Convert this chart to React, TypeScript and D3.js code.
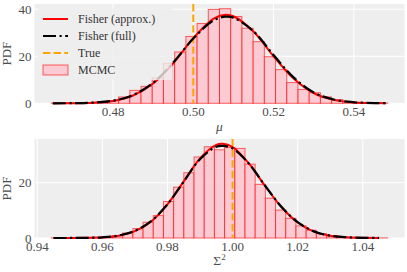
import * as d3 from "d3";

// histogram bin heights (density)
const muBins = [0.05, 0.05, 0.1, 0.2, 0.5, 1.1, 2.7, 5.5, 7.2, 10.8, 17.0, 21.8, 28.4, 33.9, 39.9, 40.2, 36.9, 31.9, 26.2, 19.8, 14.3, 8.8, 5.9, 4.5, 2.7, 1.6, 0.8, 0.4, 0.2, 0.1];
const muRange = [0.46463, 0.54844];
const sigBins = [0.05, 0.05, 0.05, 0.1, 0.15, 0.3, 0.8, 1.8, 3.4, 5.7, 8.1, 13.2, 18.4, 23.6, 29.3, 33.0, 31.9, 32.7, 32.4, 26.7, 19.4, 14.4, 10.1, 7.1, 4.4, 2.8, 1.6, 0.8, 0.4, 0.2, 0.1, 0.05, 0.05];
const sigRange = [0.94432, 1.04765];

// fisher curves
const muGrid = [0.465, 0.47, 0.475, 0.48, 0.485, 0.49, 0.495, 0.5, 0.505, 0.508, 0.51, 0.515, 0.52, 0.525, 0.53, 0.535, 0.54, 0.545, 0.548];
const muApprox = [0.01, 0.05, 0.25, 1.0, 3.3, 8.4, 17.0, 27.7, 35.9, 37.6, 37.0, 30.5, 20.0, 10.5, 4.3, 1.45, 0.38, 0.08, 0.03];
const muFull = [0.01, 0.06, 0.3, 1.1, 3.5, 8.7, 17.3, 27.5, 35.2, 36.8, 36.4, 30.6, 20.5, 11.0, 4.6, 1.6, 0.45, 0.1, 0.04];
const sigGrid = [0.945, 0.95, 0.955, 0.96, 0.965, 0.97, 0.975, 0.98, 0.985, 0.99, 0.995, 0.997, 1.0, 1.005, 1.01, 1.015, 1.02, 1.025, 1.03, 1.035, 1.04, 1.045];
const sigApprox = [0, 0.01, 0.06, 0.24, 0.85, 2.5, 6.0, 12.2, 20.5, 28.8, 33.7, 34.1, 32.9, 27.0, 18.8, 11.2, 5.6, 2.3, 0.8, 0.25, 0.07, 0.02];
const sigFull = [0, 0.01, 0.06, 0.25, 0.88, 2.6, 6.1, 12.2, 20.4, 28.5, 33.0, 33.3, 32.4, 26.9, 18.9, 11.3, 5.7, 2.4, 0.85, 0.27, 0.08, 0.02];

const muXTicks = [0.48, 0.5, 0.52, 0.54];
const muYTicks = [0, 20, 40];
const sigXTicks = [0.94, 0.96, 0.98, 1.0, 1.02, 1.04];
const sigYTicks = [0, 20];
const muTrue = 0.5;
const sigTrue = 1.0;

const legendItems = ["Fisher (approx.)", "Fisher (full)", "True", "MCMC"];

const FONT = "'Liberation Serif', 'Times New Roman', serif";
const BG = "#eeeeee";
const PINK = "#ffc0cb";
const TXT = "#4d4d4d";

const Panel = ({bins, range, grid, approx, full, xTicks, yTicks, truth, top, bottom, yMax, label, legend}) => {
    const left = 34.5, right = 404.5
    const pad = (range[1] - range[0]) * 0.05
    const x = d3.scaleLinear([range[0] - pad, range[1] + pad], [left, right])
    const y = d3.scaleLinear([0, yMax], [bottom, top])
    const bw = (range[1] - range[0]) / bins.length
    const line = d3.line().x(d => x(d[0])).y(d => y(d[1])).curve(d3.curveCatmullRom)
    const approxPts = grid.map((g, i) => [g, approx[i]])
    const fullPts = grid.map((g, i) => [g, full[i]])

    return <g>
        <rect x={left} y={top} width={right - left} height={bottom - top} fill={BG} />
        {xTicks.map(t => <line key={"gx" + t} x1={x(t)} x2={x(t)} y1={top} y2={bottom} stroke="#fff" strokeWidth={1} />)}
        {yTicks.map(t => <line key={"gy" + t} x1={left} x2={right} y1={y(t)} y2={y(t)} stroke="#fff" strokeWidth={1} />)}
        {bins.map((b, i) => {
            const x0 = x(range[0] + i * bw), x1 = x(range[0] + (i + 1) * bw)
            return <rect key={"b" + i} x={x0} y={y(b)} width={x1 - x0} height={y(0) - y(b)}
                fill={PINK} fillOpacity={0.8} stroke="red" strokeOpacity={0.6} strokeWidth={1} />
        })}
        <line x1={x(truth)} x2={x(truth)} y1={top} y2={bottom} stroke="orange" strokeWidth={2} strokeDasharray="7.4,3.2" />
        <path d={line(approxPts)} fill="none" stroke="red" strokeWidth={2} />
        <path d={line(fullPts)} fill="none" stroke="black" strokeWidth={2.2} strokeDasharray="13,3.5,2.2,3.5" />
        {xTicks.map(t => <text key={"tx" + t} x={x(t)} y={bottom + 13} textAnchor="middle" fontSize={13} fontFamily={FONT} fill={TXT}>{t.toFixed(2)}</text>)}
        {yTicks.map(t => <text key={"ty" + t} x={31.5} y={y(t) + 4.5} textAnchor="end" fontSize={13} fontFamily={FONT} fill={TXT}>{t}</text>)}
        <text transform={`translate(11, ${(top + bottom) / 2}) rotate(-90)`} textAnchor="middle" fontSize={13} fontFamily={FONT} fill={TXT}>PDF</text>
        {label}
        {legend && <g>
            <rect x={38} y={8} width={134} height={72} fill={BG} fillOpacity={0.8} />
            {legendItems.map((name, i) => {
                const cy = 19 + i * 17
                let handle
                if (i === 0) handle = <line x1={43} x2={68} y1={cy} y2={cy} stroke="red" strokeWidth={2} />
                else if (i === 1) handle = <line x1={43} x2={68} y1={cy} y2={cy} stroke="black" strokeWidth={2.2} strokeDasharray="13,3.5,2.2,3.5" />
                else if (i === 2) handle = <line x1={43} x2={68} y1={cy} y2={cy} stroke="orange" strokeWidth={2} strokeDasharray="7.4,3.2" />
                else handle = <rect x={43} y={cy - 5} width={25} height={10} fill={PINK} fillOpacity={0.8} stroke="red" strokeOpacity={0.6} strokeWidth={1} />
                return <g key={name}>
                    {handle}
                    <text x={78} y={cy + 4} fontSize={12} fontFamily={FONT} fill="#333">{name}</text>
                </g>
            })}
        </g>}
    </g>
}

export default function App() {
    return <svg width={407} height={272} style={{position: "absolute", left: 0, top: 0, background: "#fff"}}>
        <Panel bins={muBins} range={muRange} grid={muGrid} approx={muApprox} full={muFull}
            xTicks={muXTicks} yTicks={muYTicks} truth={muTrue} top={4} bottom={103.3} yMax={42.2} legend={true}
            label={<text x={219.5} y={131} textAnchor="middle" fontSize={13.5} fontStyle="italic" fontFamily={FONT} fill={TXT}>μ</text>} />
        <Panel bins={sigBins} range={sigRange} grid={sigGrid} approx={sigApprox} full={sigFull}
            xTicks={sigXTicks} yTicks={sigYTicks} truth={sigTrue} top={139} bottom={238} yMax={35.8} legend={false}
            label={<text x={219.5} y={265} textAnchor="middle" fontSize={13.5} fontFamily={FONT} fill={TXT}>Σ<tspan dy={-5} fontSize={9}>2</tspan></text>} />
    </svg>
}
